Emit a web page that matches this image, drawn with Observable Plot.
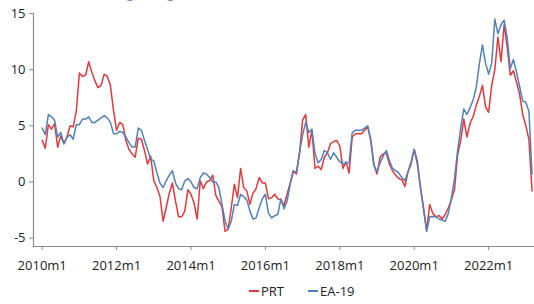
<!DOCTYPE html>
<html>
<head>
<meta charset="utf-8">
<script src="https://cdn.jsdelivr.net/npm/d3@7"></script>
<script src="https://cdn.jsdelivr.net/npm/@observablehq/plot@0.6"></script>
<style>
  html, body { margin: 0; padding: 0; background: #fff; }
  #wrap { position: relative; width: 534px; height: 304px; overflow: hidden; font-family: "Open Sans", "Noto Sans", sans-serif; }
  #note { position: absolute; left: 37px; top: -13px; font-size: 12px; line-height: 14px; color: #4f81bd; white-space: nowrap; }
  #chart { position: absolute; left: 0; top: 0; }
  #legend { position: absolute; left: 249px; top: 282px; height: 18px; display: flex; align-items: center; font-size: 13px; color: #222; }
  .item { display: flex; align-items: center; margin-right: 24px; }
  .sw { width: 10px; height: 2px; margin-right: 2px; }
</style>
</head>
<body>
<div id="wrap">
  <div id="note">(3-month moving average, %)</div>
  <div id="chart"></div>
  <div id="legend"></div>
</div>
<script>
const startYear = 2010;
const seriesNames = ["PRT", "EA-19"];
const seriesColors = ["#e5383b", "#4f81bd"];
const tickLabels = ["2010m1", "2012m1", "2014m1", "2016m1", "2018m1", "2020m1", "2022m1"];
const yTicks = [-5, 0, 5, 10, 15];

const prt = [3.7,3.0,5.1,4.7,5.2,3.1,4.1,3.4,4.0,5.0,
4.9,6.3,9.7,9.4,9.5,10.7,9.8,9.0,8.4,8.6,
9.6,9.4,8.6,6.4,4.6,5.3,5.1,3.7,2.9,2.5,
2.2,3.9,3.8,2.8,1.6,2.3,0.1,-0.5,-1.3,-3.5,
-2.3,-1.0,-0.1,-1.7,-3.1,-3.1,-2.6,-0.7,-1.1,-1.9,
-3.3,0.1,-0.6,0.0,0.1,0.6,-1.2,-1.7,-2.2,-4.4,
-4.2,-2.3,-0.2,-1.4,1.2,-0.5,-0.8,-2.0,-1.0,-0.6,
0.4,-0.1,-0.1,-1.5,-1.4,-1.1,-1.5,-1.6,-2.1,-1.1,
-0.1,1.0,0.7,2.5,5.5,6.0,3.1,4.6,1.2,1.4,
1.1,2.2,2.6,3.4,3.6,3.7,3.2,1.2,1.8,0.8,
4.0,4.3,4.3,4.3,4.6,4.9,3.7,1.5,0.7,2.2,
2.5,2.6,1.6,1.0,0.6,0.3,0.2,-0.4,0.9,1.6,
2.9,1.6,-0.4,-2.5,-4.3,-2.0,-2.8,-3.1,-3.0,-3.3,
-2.9,-2.3,-1.6,-0.7,2.4,3.7,5.6,4.0,5.2,5.8,
6.8,7.6,8.6,6.7,6.2,8.6,10.0,12.9,10.7,14.0,
12.0,9.5,9.9,8.9,7.8,6.0,5.0,3.8,-0.8];

const ea19 = [4.8,4.2,6.0,5.8,5.5,4.0,4.4,3.4,4.0,4.2,
3.8,5.1,5.1,5.6,5.6,5.8,5.3,5.3,5.5,5.7,
5.9,5.7,5.3,4.3,4.3,4.5,4.4,4.0,3.5,3.1,
3.1,4.8,4.6,3.7,2.9,2.0,1.9,0.8,-0.1,-0.5,
0.1,0.6,1.0,-0.1,-0.6,-0.7,0.1,0.3,0.0,-0.5,
-0.6,0.4,0.8,0.7,0.4,0.0,0.0,-0.5,-2.0,-3.5,
-4.2,-3.5,-2.0,-2.1,-1.1,-1.3,-1.6,-2.6,-3.3,-3.2,
-2.3,-1.5,-1.1,-2.8,-3.2,-3.0,-2.9,-1.5,-2.4,-1.7,
-0.2,0.9,0.9,2.6,4.2,5.3,4.4,4.7,2.5,1.7,
2.0,2.8,2.6,2.0,2.6,2.2,1.8,1.6,1.7,1.7,
4.4,4.6,4.6,4.6,4.8,5.0,3.7,1.5,0.9,1.7,
2.3,2.8,1.9,1.2,1.0,0.8,0.4,0.1,0.9,1.8,
2.9,1.9,-0.5,-2.2,-4.4,-3.1,-3.1,-3.1,-3.3,-3.4,
-3.5,-2.8,-1.4,0.3,2.8,4.8,6.5,6.0,6.6,7.3,
8.4,10.5,12.2,10.6,9.6,10.6,14.5,13.2,14.0,14.4,
12.8,10.1,10.9,9.8,8.5,7.2,7.1,6.3,0.7];

// Build long table: month index since startYear m1
const rows = [];
[prt, ea19].forEach((arr, s) => arr.forEach((v, i) => rows.push({ m: i, v, s: seriesNames[s] })));
const lastMonth = Math.max(prt.length, ea19.length) - 1;
const xTicks = tickLabels.map(l => (parseInt(l) - startYear) * 12);
const labelOf = new Map(xTicks.map((t, k) => [t, tickLabels[k]]));

const chart = Plot.plot({
  width: 534,
  height: 280,
  marginLeft: 33,
  marginRight: 0,
  marginTop: 13,
  marginBottom: 34,
  style: { fontFamily: "'Open Sans', 'Noto Sans', sans-serif", fontSize: "13px", color: "#222", background: "transparent", overflow: "visible" },
  x: { type: "linear", domain: [-2.8, lastMonth + 0.8] },
  y: { domain: [-5.75, 15] },
  color: { domain: seriesNames, range: seriesColors },
  marks: [
    Plot.frame({ anchor: "left", stroke: "#8a8a8a", strokeWidth: 1.2 }),
    Plot.frame({ anchor: "bottom", stroke: "#8a8a8a", strokeWidth: 1.2 }),
    Plot.axisY({ ticks: yTicks, tickSize: 4, tickPadding: 4, stroke: "#8a8a8a", label: null,
      tickFormat: d => (d < 0 ? "-" + Math.abs(d) : String(d)) }),
    Plot.axisX({ ticks: xTicks, tickSize: 4, tickPadding: 10, stroke: "#8a8a8a", label: null,
      tickFormat: d => labelOf.get(d) }),
    Plot.line(rows, { x: "m", y: "v", z: "s", stroke: "s", strokeWidth: 1.5, curve: "linear" })
  ]
});
document.getElementById("chart").appendChild(chart);

const legend = document.getElementById("legend");
seriesNames.forEach((name, k) => {
  const item = document.createElement("div");
  item.className = "item";
  const sw = document.createElement("span");
  sw.className = "sw";
  sw.style.background = seriesColors[k];
  const tx = document.createElement("span");
  tx.textContent = name;
  item.appendChild(sw);
  item.appendChild(tx);
  legend.appendChild(item);
});
</script>
</body>
</html>
